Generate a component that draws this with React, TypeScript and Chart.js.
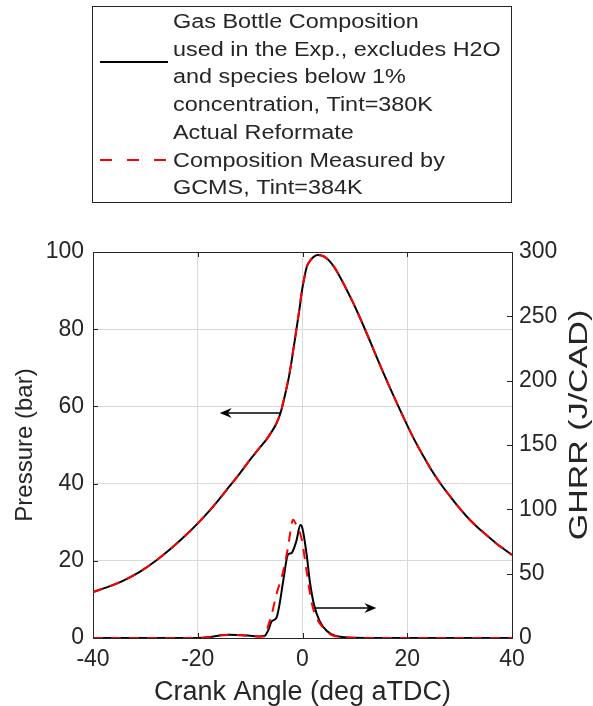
import React, { useEffect, useRef } from "react";
import { Chart, registerables } from "chart.js";

Chart.register(...registerables);

const FONT = '"Liberation Sans", Arial, Helvetica, sans-serif';
const INK = "#262626";

// ---- axis ranges / ticks ----
const xRange = [-40, 40];
const xStep = 20;
const pressureRange = [0, 100];
const pressureStep = 20;
const ghrrRange = [0, 300];
const ghrrStep = 50;

// ---- pressure traces (crank angle deg aTDC, bar) ----
const pressureAngle = [
  -40, -37, -34, -31, -28, -25, -22, -20, -18, -16, -14, -12, -10, -8, -7, -6, -5,
  -4.2, -3.5, -2.5, -1.6, -0.6, -0.1, 0.3, 0.85, 1.6, 2.2, 2.9, 4, 5, 6, 6.9, 8,
  9.4, 10.5, 11.7, 12.8, 13.9, 15.4, 16.7, 18, 20, 21.5, 23, 24.5, 26.3, 28, 29.5,
  31.4, 33, 35, 37, 38.5, 40,
];
const pressureGasBottle = [
  11.9, 13.3, 15.0, 17.2, 20.0, 23.3, 27.0, 29.7, 32.6, 35.8, 39.2, 42.6, 46.2, 49.6,
  51.2, 53.2, 55.5, 58.3, 62.0, 68.3, 76.0, 85.0, 90.0, 93.0, 96.3, 98.0, 98.8, 99.2,
  98.9, 97.9, 96.2, 94.2, 91.4, 87.6, 84.4, 80.7, 77.2, 73.6, 68.8, 64.8, 60.9, 55.1,
  51.0, 47.3, 43.8, 40.1, 37.0, 34.4, 31.4, 29.2, 26.8, 24.5, 23.0, 21.5,
];
const pressureReformate = [
  11.9, 13.3, 15.0, 17.2, 20.0, 23.3, 27.0, 29.7, 32.6, 35.8, 39.2, 42.6, 46.2, 49.6,
  51.2, 53.2, 55.6, 58.4, 62.2, 68.5, 76.2, 85.2, 90.1, 93.0, 96.3, 98.0, 98.8, 99.2,
  98.9, 97.9, 96.2, 94.2, 91.4, 87.6, 84.4, 80.7, 77.2, 73.6, 68.8, 64.8, 60.9, 55.1,
  51.0, 47.3, 43.8, 40.1, 37.0, 34.4, 31.4, 29.2, 26.8, 24.5, 23.0, 21.5,
];

// ---- gross heat release rate traces (deg aTDC, J/CAD) ----
const ghrrAngleGasBottle = [
  -40, -30, -20, -18.5, -17, -15.5, -14, -12.5, -11, -9.5, -8.2, -7.5, -7.1, -6.5,
  -5.9, -5.0, -4.4, -3.6, -2.8, -2.1, -1.2, -0.4, 0, 0.8, 1.4, 2.2, 3.3, 4.6, 6.2, 8,
  10, 15, 20, 30, 40,
];
const ghrrGasBottle = [
  0, 0, 0, 0.3, 1.2, 2.2, 2.6, 2.4, 2.0, 1.6, 1.2, 1.5, 2.0, 6.4, 12.9, 15.5, 25.8,
  46.5, 64.6, 66.0, 75.0, 87.8, 85.0, 64.6, 43.9, 25.8, 12.9, 5.7, 1.8, 0.6, 0.2, 0,
  0, 0, 0,
];
const ghrrAngleReformate = [
  -40, -30, -20, -18.5, -17, -15.5, -14, -12.5, -11, -9.5, -8.2, -7.3, -7, -6.5, -5.9,
  -5.0, -3.7, -2.8, -1.8, -1.2, -0.2, 0.8, 1.7, 2.7, 4.0, 5.5, 7, 10, 15, 20, 30, 40,
];
const ghrrReformate = [
  0, 0, 0, 0.3, 1.2, 2.2, 2.6, 2.4, 2.0, 1.6, 1.2, 1.2, 3.0, 10.3, 18.0, 33.6, 51.7,
  69.8, 92.0, 87.9, 77.6, 51.7, 28.4, 15.5, 7.8, 2.5, 0.8, 0.2, 0, 0, 0, 0,
];

// ---- annotation arrows (data coordinates) ----
const pressureArrowX = [-4.2, -15.8];
const pressureArrowY = 58.3;
const ghrrArrowX = [2.4, 14.1];
const ghrrArrowY = 23.7;

// ---- texts ----
const xTitle = "Crank Angle (deg aTDC)";
const pressureTitle = "Pressure (bar)";
const ghrrTitle = "GHRR (J/CAD)";
const legendGasBottle = [
  "Gas Bottle Composition",
  "used in the Exp., excludes H2O",
  "and species below 1%",
  "concentration, Tint=380K",
];
const legendReformate = [
  "Actual Reformate",
  "Composition Measured by",
  "GCMS, Tint=384K",
];

const zip = (xs: number[], ys: number[]) => xs.map((x, i) => ({ x, y: ys[i] }));

function drawArrow(ctx: CanvasRenderingContext2D, x0: number, x1: number, y: number) {
  const dir = Math.sign(x1 - x0);
  ctx.beginPath();
  ctx.moveTo(x0, y);
  ctx.lineTo(x1 - dir * 6, y);
  ctx.stroke();
  ctx.beginPath();
  ctx.moveTo(x1, y);
  ctx.lineTo(x1 - dir * 12, y - 5);
  ctx.lineTo(x1 - dir * 8, y);
  ctx.lineTo(x1 - dir * 12, y + 5);
  ctx.closePath();
  ctx.fill();
}

const framePlugin = {
  id: "matlabFrame",
  afterDatasetsDraw(chart: any) {
    const { ctx, scales } = chart;
    ctx.save();
    ctx.strokeStyle = "#000";
    ctx.fillStyle = "#000";
    ctx.lineWidth = 1.7;
    const y1 = scales.y.getPixelForValue(pressureArrowY);
    drawArrow(
      ctx,
      scales.x.getPixelForValue(pressureArrowX[0]),
      scales.x.getPixelForValue(pressureArrowX[1]),
      Math.round(y1)
    );
    const y2 = scales.y2.getPixelForValue(ghrrArrowY);
    drawArrow(
      ctx,
      scales.x.getPixelForValue(ghrrArrowX[0]),
      scales.x.getPixelForValue(ghrrArrowX[1]),
      Math.round(y2)
    );
    ctx.restore();
  },
  afterDraw(chart: any) {
    const { ctx, chartArea: a, scales } = chart;
    ctx.save();
    ctx.strokeStyle = INK;
    ctx.lineWidth = 1;
    const seg = (x0: number, y0: number, x1: number, y1: number) => {
      ctx.beginPath();
      ctx.moveTo(x0, y0);
      ctx.lineTo(x1, y1);
      ctx.stroke();
    };
    // top border
    seg(a.left, a.top + 0.5, a.right, a.top + 0.5);
    const tl = 5;
    scales.x.ticks.forEach((t: any) => {
      const px = Math.round(scales.x.getPixelForValue(t.value)) + 0.5;
      seg(px, a.bottom, px, a.bottom - tl);
      seg(px, a.top, px, a.top + tl);
    });
    scales.y.ticks.forEach((t: any) => {
      const py = Math.round(scales.y.getPixelForValue(t.value)) + 0.5;
      seg(a.left, py, a.left + tl, py);
    });
    scales.y2.ticks.forEach((t: any) => {
      const py = Math.round(scales.y2.getPixelForValue(t.value)) + 0.5;
      seg(a.right, py, a.right - tl, py);
    });

    // right axis title (reads bottom-to-top like MATLAB)
    ctx.fillStyle = INK;
    ctx.font = `25px ${FONT}`;
    ctx.save();
    ctx.translate(580, 425);
    ctx.rotate(-Math.PI / 2);
    ctx.scale(1.36, 1);
    ctx.textAlign = "center";
    ctx.textBaseline = "middle";
    ctx.fillText(ghrrTitle, 0, 0);
    ctx.restore();

    // legend box
    const bx = 92.5, by = 6.5, bw = 419, bh = 196;
    ctx.fillStyle = "#fff";
    ctx.fillRect(bx, by, bw, bh);
    ctx.strokeStyle = INK;
    ctx.lineWidth = 1;
    ctx.strokeRect(bx, by, bw, bh);
    ctx.fillStyle = INK;
    ctx.font = `19.5px ${FONT}`;
    ctx.textAlign = "left";
    ctx.textBaseline = "alphabetic";
    const lineH = 27.7;
    const tx = 173;
    const allLines = [...legendGasBottle, ...legendReformate];
    allLines.forEach((s, i) => {
      ctx.save();
      ctx.translate(tx, 28 + i * lineH);
      ctx.scale(1.2, 1);
      ctx.fillText(s, 0, 0);
      ctx.restore();
    });
    ctx.strokeStyle = "#000";
    ctx.lineWidth = 2.2;
    seg(100, 62, 168, 62);
    ctx.strokeStyle = "#ff0000";
    ctx.setLineDash([12, 15]);
    seg(100, 160, 168, 160);
    ctx.setLineDash([]);
    ctx.restore();
  },
};

export default function App() {
  const ref = useRef<HTMLCanvasElement>(null);
  useEffect(() => {
    const lineBase = {
      pointRadius: 0,
      borderWidth: 2,
      fill: false,
      cubicInterpolationMode: "monotone" as const,
    };
    const chart = new Chart(ref.current as HTMLCanvasElement, {
      type: "line",
      data: {
        datasets: [
          {
            ...lineBase,
            label: "Pressure gas bottle",
            data: zip(pressureAngle, pressureGasBottle),
            borderColor: "#000",
            yAxisID: "y",
            order: 1,
          },
          {
            ...lineBase,
            label: "Pressure reformate",
            data: zip(pressureAngle, pressureReformate),
            borderColor: "#ff0000",
            borderDash: [10, 8],
            yAxisID: "y",
            order: 0,
          },
          {
            ...lineBase,
            label: "GHRR gas bottle",
            data: zip(ghrrAngleGasBottle, ghrrGasBottle),
            borderColor: "#000",
            yAxisID: "y2",
            order: 1,
          },
          {
            ...lineBase,
            label: "GHRR reformate",
            data: zip(ghrrAngleReformate, ghrrReformate),
            borderColor: "#ff0000",
            borderDash: [10, 8],
            yAxisID: "y2",
            order: 0,
          },
        ],
      },
      options: {
        responsive: false,
        animation: false,
        devicePixelRatio: 1,
        layout: { padding: { top: 252, left: 0, right: 0, bottom: 0 } },
        plugins: { legend: { display: false }, tooltip: { enabled: false }, title: { display: false } },
        scales: {
          x: {
            type: "linear",
            min: xRange[0],
            max: xRange[1],
            ticks: { stepSize: xStep, color: INK, font: { family: FONT, size: 23 }, padding: 8, maxRotation: 0 },
            grid: { color: "#d9d9d9", lineWidth: 1, drawTicks: false },
            border: { color: INK, width: 1 },
            title: {
              display: true,
              text: xTitle,
              color: INK,
              font: { family: FONT, size: 27, lineHeight: 1 },
              padding: { top: 0, bottom: 0 },
            },
            afterFit: (s: any) => {
              s.height = 68;
            },
          },
          y: {
            type: "linear",
            position: "left",
            min: pressureRange[0],
            max: pressureRange[1],
            ticks: { stepSize: pressureStep, color: INK, font: { family: FONT, size: 23 }, padding: 9 },
            grid: { color: "#d9d9d9", lineWidth: 1, drawTicks: false },
            border: { color: INK, width: 1 },
            title: {
              display: true,
              text: pressureTitle,
              color: INK,
              font: { family: FONT, size: 24, lineHeight: 1 },
              padding: { top: 13, bottom: 0 },
            },
            afterFit: (s: any) => {
              s.width = 93;
            },
          },
          y2: {
            type: "linear",
            position: "right",
            min: ghrrRange[0],
            max: ghrrRange[1],
            ticks: { stepSize: ghrrStep, color: INK, font: { family: FONT, size: 23 }, padding: 7 },
            grid: { display: false, drawTicks: false },
            border: { color: INK, width: 1 },
            title: { display: false },
            afterFit: (s: any) => {
              s.width = 81;
            },
          },
        },
      },
      plugins: [framePlugin],
    } as any);
    return () => chart.destroy();
  }, []);
  return (
    <div style={{ position: "absolute", left: 0, top: 0, width: 593, height: 706, background: "#fff" }}>
      <canvas ref={ref} width={593} height={706} style={{ display: "block", width: 593, height: 706 }} />
    </div>
  );
}
